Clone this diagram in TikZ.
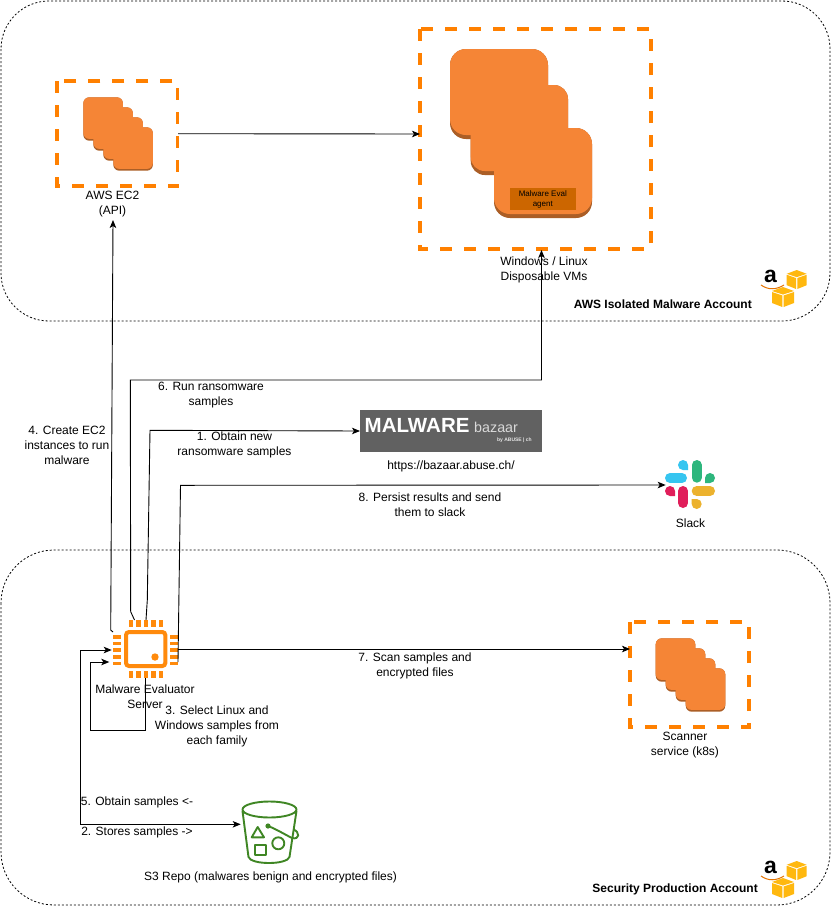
\documentclass[tikz,border=0pt]{standalone}
\usepackage{fontspec}
\setmainfont{Liberation Sans}
\usetikzlibrary{arrows.meta}
\definecolor{aorange}{HTML}{F58536}
\definecolor{adark}{HTML}{AB5E26}
\definecolor{dashor}{HTML}{FF8000}
\definecolor{chipor}{HTML}{FF8A0C}
\definecolor{agentor}{HTML}{CC6600}
\definecolor{sgreen}{HTML}{3F8624}
\definecolor{amzy}{HTML}{FFB80F}
\definecolor{slackblue}{RGB}{54,197,240}
\definecolor{slackgreen}{RGB}{46,182,125}
\definecolor{slackred}{RGB}{224,30,90}
\definecolor{slackyellow}{RGB}{236,178,46}
\tikzset{
  x=1pt,y=-1pt,
  account/.style={draw=black,dash pattern=on 2pt off 2pt,line width=.8pt,fill=none},
  conn/.style={draw=black,line width=.9pt,-{Stealth[length=8pt,width=6.5pt,inset=2pt]}},
  dblconn/.style={draw=black,line width=.9pt,{Stealth[length=8pt,width=6.5pt,inset=2pt]}-{Stealth[length=8pt,width=6.5pt,inset=2pt]}},
  dbox/.style={draw=dashor,line width=3.4pt,dash pattern=on 12pt off 12pt},
  bigdbox/.style={draw=dashor,line width=4pt,dash pattern=on 12pt off 12pt},
  lbl/.style={font=\fontsize{12}{15}\selectfont,align=center,inner sep=0pt,text=black},
  bolded/.style={font=\fontsize{12}{15}\selectfont\bfseries,inner sep=0pt,anchor=east},
  tile/.style={rounded corners=#1,fill=aorange},
  shadetile/.style={rounded corners=#1,fill=adark},
  pin/.style={fill=chipor},
}
% stack of instances
\newcommand{\smallstack}[2]{%
  \begin{scope}[shift={(#1,#2)}]
    \foreach \dx/\dy in {0/0,10/10,20/20,30/30}{
      \fill[shadetile=6pt] (\dx,\dy) rectangle ++(39.6,43.4);
    }
    \foreach \dx/\dy in {0/0,10/10,20/20,30/30}{
      \fill[tile=6pt] (\dx,\dy) rectangle ++(39.6,41.6);
    }
  \end{scope}}
% AWS logo cube: x, y, width, height
\newcommand{\awscube}[4]{%
  \begin{scope}[shift={(#1,#2)},xscale=#3/17,yscale=#4/20]
    \fill[amzy] (0,4) -- (8.5,0) -- (17,4) -- (8.5,7.5) -- cycle;
    \fill[amzy] (0,5) -- (8,8.5) -- (8,20) -- (0,16) -- cycle;
    \fill[amzy] (17,5) -- (9,8.5) -- (9,20) -- (17,16) -- cycle;
  \end{scope}}
\newcommand{\awslogo}[2]{%
  \begin{scope}[shift={(#1,#2)}]
    \awscube{26.7}{0}{20}{19}
    \awscube{12}{17}{22}{20}
    \node[inner sep=0pt,font=\fontsize{23}{23}\selectfont\bfseries] at (10.5,6.5) {a};
    \draw[line width=1pt,orange!90!black] (1,15) .. controls (8,20) and (16,20) .. (24,15);
  \end{scope}}
\begin{document}
\begin{tikzpicture}
\useasboundingbox (0,0) rectangle (831,906);
\fill[white] (0,0) rectangle (831,906);
% account frames
\draw[account,rounded corners=48pt] (1,1) rectangle (830,321);
\draw[account,rounded corners=53pt] (1,550) rectangle (830,905);

% boxes
\draw[dbox] (57,81) rectangle (177.7,186);
\draw[bigdbox] (420,29) rectangle (650.7,248.7);
\draw[dbox] (630,622) rectangle (749,727);
\coordinate (vmL) at (420,134);
\coordinate (vmB) at (541.5,250);
\coordinate (ec2R) at (178,133.7);
\coordinate (ec2B) at (113,220);
\coordinate (scanL) at (630,649);

% small stacks
\smallstack{83.3}{97.3}
\smallstack{655.7}{638.3}

% large stack
\fill[shadetile=16pt] (450,49) rectangle (548,139);
\fill[shadetile=14pt] (470.7,85) rectangle (568,175);
\fill[shadetile=16pt] (494,128) rectangle (592,218);
\fill[tile=16pt] (450,49) rectangle (548,135);
\fill[tile=14pt] (470.7,85) rectangle (568,171);
\fill[tile=16pt] (494,128) rectangle (592,214);
\node[fill=agentor,minimum width=65.7pt,minimum height=22.3pt,inner sep=0pt,
      font=\fontsize{8}{10}\selectfont,align=center] (agent) at (542.8,199) {Malware Eval\\agent};

% Malware bazaar logo
\fill[black!62] (360,410) rectangle (541.7,451.7);
\node[inner sep=0pt,anchor=west,text=white,font=\fontsize{20.5}{21}\selectfont\bfseries] (mbz) at (364.5,425) {MALWARE};
\node[inner sep=0pt,anchor=west,text=black!15,font=\fontsize{14.3}{15}\selectfont] (bzr) at (474,427.5) {bazaar};
\node[inner sep=0pt,anchor=east,text=black!10,font=\fontsize{5}{6}\selectfont\bfseries] (byab) at (532,440) {by ABUSE | ch};
\coordinate (mbzL) at (360,431);

% Slack logo
\begin{scope}[line cap=round,line width=10pt]
  \draw[slackblue] (670,478) -- (682,478);
  \fill[slackblue] (683,465) circle (5pt) (683,465) rectangle (688,470);
  \draw[slackgreen] (696.7,465) -- (696.7,477.7);
  \fill[slackgreen] (710,478) circle (5pt) (705,478) rectangle (710,483);
  \draw[slackred] (683,491) -- (683,503);
  \fill[slackred] (670,491) circle (5pt) (670,491) rectangle (675,496);
  \draw[slackyellow] (696.7,491) -- (710,491);
  \fill[slackyellow] (696.7,504) circle (5pt) (691.7,499) rectangle (696.7,504);
\end{scope}
\coordinate (slackL) at (665.7,485);

% Chip
\draw[chipor,line width=4pt,rounded corners=3pt] (126,632) rectangle (165.3,666);
\fill[chipor] (155,657) circle (3.7pt);
\foreach \i in {0,1,2,3,4}{
  \fill[pin] (129+7.45*\i,620) rectangle ++(4.3,7);
  \fill[pin] (129+7.45*\i,671) rectangle ++(4.3,7);
  \fill[pin] (113,635+6.7*\i) rectangle ++(8,3.5);
  \fill[pin] (170,635+6.7*\i) rectangle ++(8,3.5);
}
\coordinate (chipL1) at (111.7,650);
\coordinate (chipL2) at (109.3,662);
\coordinate (chipB) at (145.7,678);
\coordinate (chipR) at (178,649);
\coordinate (chipRb) at (178,662);
\coordinate (chipT1) at (134.5,620);
\coordinate (chipT2) at (146,620);
\coordinate (chipTL) at (113,632);

% S3 bucket
\begin{scope}[draw=sgreen,line width=1.9pt,line join=round]
  \draw (269.5,809.5) ellipse (27pt and 8pt);
  \draw (242.5,811) -- (248.5,857) .. controls (251,865) and (287,865) .. (289.5,857) -- (296.5,811);
  \draw (268,826) .. controls (276,829) and (284,834) .. (292,838) .. controls (300,840) and (300,832) .. (293.5,829.5);
  \fill[sgreen] (268,826) circle (2.6pt);
  \draw (257.7,827) -- (264,837.3) -- (251.7,837.3) -- cycle;
  \draw (255,845) rectangle (266,855);
  \draw (278.3,843.3) circle (6pt);
\end{scope}
\coordinate (s3L) at (240.7,824.3);

% connectors
\draw[conn] (ec2R) -- (vmL);
\draw[conn] (chipTL) -- (110.7,630) -- (ec2B);
\draw[conn] (chipT1) -- (130.7,611.7) -- (130.3,380) -- (541.5,380) -- (vmB);
\draw[conn] (chipT2) -- (147.3,600) -- (150,430.3) -- (mbzL);
\draw[conn] (chipRb) -- (180.5,485.3) -- (slackL);
\draw[conn] (chipR) -- (scanL);
\draw[conn] (chipB) -- (145.7,730) -- (90.7,730) -- (90.7,662) -- (chipL2);
\draw[dblconn] (s3L) -- (80.7,824.3) -- (80.7,650) -- (chipL1);

% labels
\node[lbl] (l1) at (234.5,445) {1. Obtain new\\ransomware samples};
\node[lbl] (l2) at (137,832) {2. Stores samples ->};
\node[lbl] (l3) at (217,726) {3. Select Linux and\\Windows samples from\\each family};
\node[lbl] (l4) at (67,445) {4. Create EC2\\instances to run\\malware};
\node[lbl] (l5) at (137,802) {5. Obtain samples <-};
\node[lbl] (l6) at (211,395) {6. Run ransomware\\samples};
\node[lbl] (l7) at (415,666) {7. Scan samples and\\encrypted files};
\node[lbl] (l8) at (430,505) {8. Persist results and send\\them to slack};
\node[lbl] (n1) at (112.5,204.5) {AWS EC2\\(API)};
\node[lbl] (n2) at (544,270) {Windows / Linux\\Disposable VMs};
\node[lbl] (n3) at (451,466) {https://bazaar.abuse.ch/};
\node[lbl] (n4) at (690.5,523) {Slack};
\node[lbl] (n5) at (145,697) {Malware Evaluator\\Server};
\node[lbl] (n6) at (685,745.5) {Scanner\\service (k8s)};
\node[lbl] (n7) at (270.5,877) {S3 Repo (malwares benign and encrypted files)};
\node[bolded] (a1) at (752,304) {AWS Isolated Malware Account};
\node[bolded] (a2) at (758,889) {Security Production Account};

\awslogo{760}{270}
\awslogo{760}{861}
\end{tikzpicture}
\end{document}
